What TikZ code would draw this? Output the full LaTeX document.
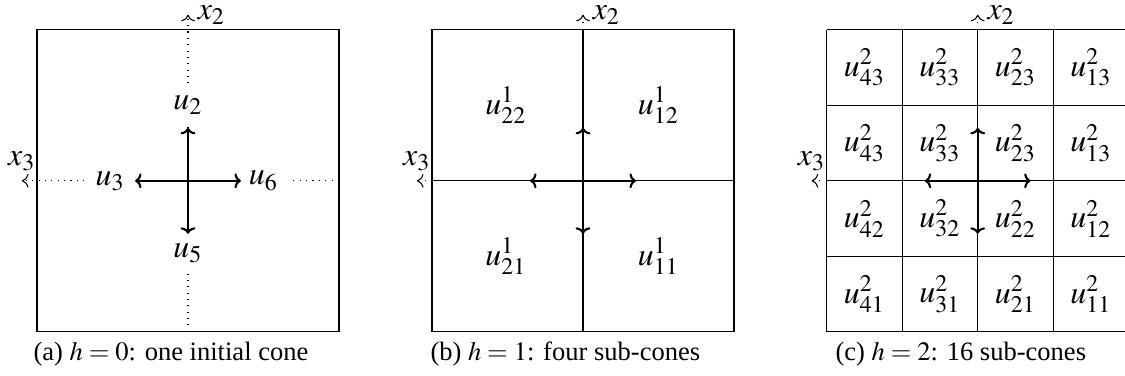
\documentclass[tikz,border=0pt]{standalone}
\usepackage{mathptmx}
\usepackage{fontspec}
\setmainfont{Liberation Serif}
\usetikzlibrary{arrows.meta}
\begin{document}
\begin{tikzpicture}[
  axis/.style={dotted, ->},
  dirarrow/.style={line width=0.8pt, -{To[length=2.4pt,width=5.6pt]}},
  ulabel/.style={font=\large, fill=white, inner sep=4pt},
  xlabel/.style={font=\large, inner sep=0pt},
  cell/.style={font=\large},
  frame/.style={thin},
  captext/.style={anchor=base west, inner sep=0pt, font=\rmfamily\normalsize}
]
\useasboundingbox (0,0) rectangle (14.901,4.980);

% ---------- panel (a) ----------
\begin{scope}[shift={(2.49,2.585)}]
  \coordinate (a-c) at (0,0);
  \coordinate (a-top) at (0,2.2);
  \coordinate (a-bot) at (0,-2);
  \coordinate (a-left) at (-2.2,0);
  \coordinate (a-right) at (2,0);
  \draw[axis] (a-bot) -- (a-top) node[xlabel, anchor=west, xshift=3.5pt] (a-x2) {$x_2$};
  \draw[axis] (a-right) -- (a-left) node[xlabel, anchor=south, yshift=3.5pt] (a-x3) {$x_3$};
  \draw[frame] (-2,-2) rectangle (2,2);
  \node[ulabel] (a-u2) at (0,1) {$u_2$};
  \node[ulabel] (a-u5) at (0,-0.96) {$u_5$};
  \node[ulabel] (a-u3) at (-1.03,0) {$u_3$};
  \node[ulabel] (a-u6) at (1.0,0) {$u_6$};
  \coordinate (a-n) at (0,0.7);
  \coordinate (a-s) at (0,-0.7);
  \coordinate (a-w) at (-0.7,0);
  \coordinate (a-e) at (0.7,0);
  \draw[dirarrow] (a-c) -- (a-n);
  \draw[dirarrow] (a-c) -- (a-s);
  \draw[dirarrow] (a-c) -- (a-w);
  \draw[dirarrow] (a-c) -- (a-e);
\end{scope}
\node[captext] (a-cap) at (0.437,0.2) {(a) $h=0$: one initial cone};

% ---------- panel (b) ----------
\begin{scope}[shift={(7.722,2.585)}]
  \coordinate (b-c) at (0,0);
  \coordinate (b-t0) at (0,2);
  \coordinate (b-top) at (0,2.2);
  \coordinate (b-l0) at (-2,0);
  \coordinate (b-left) at (-2.2,0);
  \draw[axis] (b-t0) -- (b-top) node[xlabel, anchor=west, xshift=3.5pt] (b-x2) {$x_2$};
  \draw[axis] (b-l0) -- (b-left) node[xlabel, anchor=south, yshift=3.5pt] (b-x3) {$x_3$};
  \draw[frame] (-2,-2) rectangle (2,2);
  \draw[frame] (0,-2) -- (0,2);
  \draw[frame] (-2,0) -- (2,0);
  \node[cell] (b-22) at (-1.02,1) {$u^1_{22}$};
  \node[cell] (b-12) at (1.0,1) {$u^1_{12}$};
  \node[cell] (b-21) at (-1.02,-1) {$u^1_{21}$};
  \node[cell] (b-11) at (1.0,-1) {$u^1_{11}$};
  \coordinate (b-n) at (0,0.7);
  \coordinate (b-s) at (0,-0.7);
  \coordinate (b-w) at (-0.7,0);
  \coordinate (b-e) at (0.7,0);
  \draw[dirarrow] (b-c) -- (b-n);
  \draw[dirarrow] (b-c) -- (b-s);
  \draw[dirarrow] (b-c) -- (b-w);
  \draw[dirarrow] (b-c) -- (b-e);
\end{scope}
\node[captext] (b-cap) at (5.695,0.2) {(b) $h=1$: four sub-cones};

% ---------- panel (c) ----------
\begin{scope}[shift={(12.95,2.585)}]
  \coordinate (c-c) at (0,0);
  \coordinate (c-t0) at (0,2);
  \coordinate (c-top) at (0,2.2);
  \coordinate (c-l0) at (-2,0);
  \coordinate (c-left) at (-2.2,0);
  \draw[axis] (c-t0) -- (c-top) node[xlabel, anchor=west, xshift=3.5pt] (c-x2) {$x_2$};
  \draw[axis] (c-l0) -- (c-left) node[xlabel, anchor=south, yshift=3.5pt] (c-x3) {$x_3$};
  \draw[frame] (-2,-2) grid (2,2);
  % row 1 (top)
  \node[cell] (c-r1c1) at (-1.5,1.5) {$u^2_{43}$};
  \node[cell] (c-r1c2) at (-0.5,1.5) {$u^2_{33}$};
  \node[cell] (c-r1c3) at (0.5,1.5) {$u^2_{23}$};
  \node[cell] (c-r1c4) at (1.5,1.5) {$u^2_{13}$};
  % row 2
  \node[cell] (c-r2c1) at (-1.5,0.5) {$u^2_{43}$};
  \node[cell] (c-r2c2) at (-0.5,0.5) {$u^2_{33}$};
  \node[cell] (c-r2c3) at (0.5,0.5) {$u^2_{23}$};
  \node[cell] (c-r2c4) at (1.5,0.5) {$u^2_{13}$};
  % row 3
  \node[cell] (c-r3c1) at (-1.5,-0.5) {$u^2_{42}$};
  \node[cell] (c-r3c2) at (-0.5,-0.5) {$u^2_{32}$};
  \node[cell] (c-r3c3) at (0.5,-0.5) {$u^2_{22}$};
  \node[cell] (c-r3c4) at (1.5,-0.5) {$u^2_{12}$};
  % row 4
  \node[cell] (c-r4c1) at (-1.5,-1.5) {$u^2_{41}$};
  \node[cell] (c-r4c2) at (-0.5,-1.5) {$u^2_{31}$};
  \node[cell] (c-r4c3) at (0.5,-1.5) {$u^2_{21}$};
  \node[cell] (c-r4c4) at (1.5,-1.5) {$u^2_{11}$};
  \coordinate (c-n) at (0,0.7);
  \coordinate (c-s) at (0,-0.7);
  \coordinate (c-w) at (-0.7,0);
  \coordinate (c-e) at (0.7,0);
  \draw[dirarrow] (c-c) -- (c-n);
  \draw[dirarrow] (c-c) -- (c-s);
  \draw[dirarrow] (c-c) -- (c-w);
  \draw[dirarrow] (c-c) -- (c-e);
\end{scope}
\node[captext] (c-cap) at (11.06,0.2) {(c) $h=2$: 16 sub-cones};
\end{tikzpicture}
\end{document}
